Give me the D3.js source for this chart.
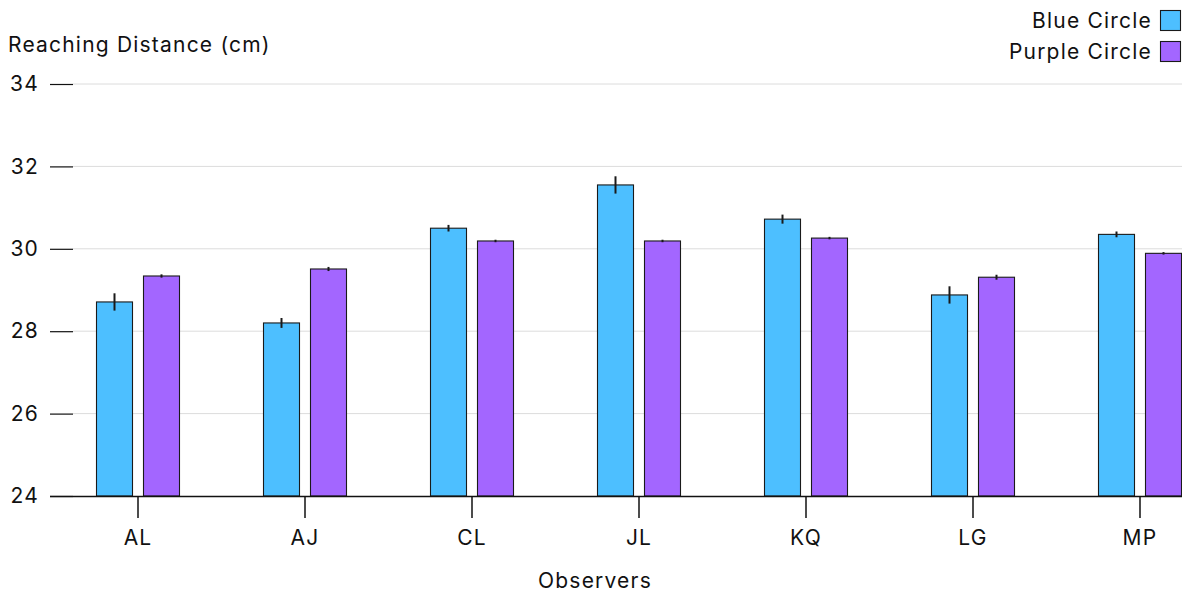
<!DOCTYPE html>
<html>
<head>
<meta charset="utf-8">
<script src="https://cdn.jsdelivr.net/npm/d3@7"></script>
<style>
  html, body { margin: 0; padding: 0; background: #fff; }
  svg { display: block; font-family: "Inter", "Noto Sans", sans-serif; }
  svg text { letter-spacing: 1.2px; }
</style>
</head>
<body>
<svg id="chart" width="1182" height="592"></svg>
<script>
// Observers and mean reaching distances (cm) with error half-widths
const observers = ["AL", "AJ", "CL", "JL", "KQ", "LG", "MP"];
const seriesNames = ["Blue Circle", "Purple Circle"];
const blueValues = [28.71, 28.20, 30.50, 31.55, 30.72, 28.88, 30.35];
const blueErrors = [0.21, 0.12, 0.08, 0.21, 0.11, 0.21, 0.07];
const purpleValues = [29.34, 29.51, 30.19, 30.19, 30.26, 29.31, 29.89];
const purpleErrors = [0.04, 0.05, 0.03, 0.03, 0.03, 0.06, 0.03];
const yTicks = [24, 26, 28, 30, 32, 34];
const colors = ["#4dbfff", "#a366ff"];

const svg = d3.select("#chart");
const W = 1182, H = 592;

const x = d3.scaleBand().domain(observers).range([54.5, 1223.5]).padding(0);
const xSub = d3.scaleBand().domain(seriesNames).range([42, 125]).paddingInner(0.234).paddingOuter(0);
const y = d3.scaleLinear().domain([24, 34]).range([496, 84]);

// grid lines
svg.append("g")
  .selectAll("line")
  .data(yTicks.slice(1))
  .join("line")
  .attr("x1", 73).attr("x2", W)
  .attr("y1", d => y(d)).attr("y2", d => y(d))
  .attr("stroke", "#dcdcdc").attr("stroke-width", 1);

// y axis
const yAxis = svg.append("g")
  .attr("transform", "translate(73,0)")
  .call(d3.axisLeft(y).tickValues(yTicks).tickSize(23).tickPadding(11).tickFormat(d3.format("d")));
yAxis.select(".domain").remove();
yAxis.selectAll(".tick line").attr("stroke", "#111").attr("stroke-width", 1.2);
yAxis.selectAll(".tick text").attr("fill", "#111").attr("font-size", 21).attr("font-family", "Inter, sans-serif");

// bars
const series = [
  { name: seriesNames[0], values: blueValues, errors: blueErrors, color: colors[0] },
  { name: seriesNames[1], values: purpleValues, errors: purpleErrors, color: colors[1] }
];

const barG = svg.append("g");
series.forEach(s => {
  const rows = observers.map((o, i) => ({ o, v: s.values[i], e: s.errors[i] }));
  barG.append("g")
    .selectAll("rect")
    .data(rows)
    .join("rect")
    .attr("x", d => x(d.o) + xSub(s.name))
    .attr("width", xSub.bandwidth())
    .attr("y", d => y(d.v))
    .attr("height", d => y(24) - y(d.v))
    .attr("fill", s.color)
    .attr("stroke", "#1a1a1a")
    .attr("stroke-width", 1.1);
  barG.append("g")
    .selectAll("line")
    .data(rows)
    .join("line")
    .attr("x1", d => x(d.o) + xSub(s.name) + xSub.bandwidth() / 2)
    .attr("x2", d => x(d.o) + xSub(s.name) + xSub.bandwidth() / 2)
    .attr("y1", d => y(d.v + d.e))
    .attr("y2", d => y(d.v - d.e))
    .attr("stroke", "#1a1a1a")
    .attr("stroke-width", 2);
});

// x axis
const xAxis = svg.append("g")
  .attr("transform", "translate(0,496)")
  .call(d3.axisBottom(x).tickSize(22).tickPadding(12).tickSizeOuter(0));
xAxis.select(".domain").attr("d", `M50,0.5H${W}`).attr("stroke", "#111").attr("stroke-width", 1.5);
xAxis.selectAll(".tick line").attr("stroke", "#111").attr("stroke-width", 1.5);
xAxis.selectAll(".tick text").attr("fill", "#111").attr("font-size", 21).attr("font-family", "Inter, sans-serif");

// titles
svg.append("text")
  .attr("x", 8).attr("y", 52)
  .attr("font-size", 21).attr("fill", "#111")
  .text("Reaching Distance (cm)");

svg.append("text")
  .attr("x", 595).attr("y", 588)
  .attr("text-anchor", "middle")
  .attr("font-size", 21).attr("fill", "#111")
  .text("Observers");

// legend
const legend = svg.append("g");
series.forEach((s, i) => {
  const ly = 10 + i * 31;
  legend.append("rect")
    .attr("x", 1160.5).attr("y", ly + 0.5)
    .attr("width", 20).attr("height", 20)
    .attr("fill", s.color).attr("stroke", "#1a1a1a").attr("stroke-width", 1.1);
  legend.append("text")
    .attr("x", 1152).attr("y", ly + 18)
    .attr("text-anchor", "end")
    .attr("font-size", 21).attr("fill", "#111")
    .text(s.name);
});
</script>
</body>
</html>
